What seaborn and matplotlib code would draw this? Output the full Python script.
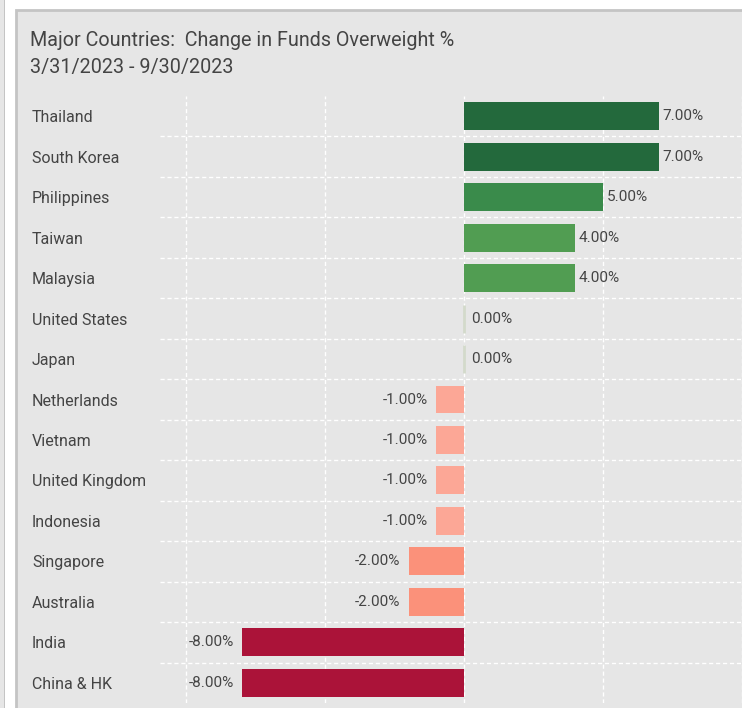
import matplotlib
matplotlib.use("Agg")
import matplotlib.pyplot as plt
import seaborn as sns
import pandas as pd
from matplotlib.patches import Rectangle

# data
countries = ["Thailand", "South Korea", "Philippines", "Taiwan", "Malaysia",
             "United States", "Japan", "Netherlands", "Vietnam", "United Kingdom",
             "Indonesia", "Singapore", "Australia", "India", "China & HK"]
change_pct = [7, 7, 5, 4, 4, 0, 0, -1, -1, -1, -1, -2, -2, -8, -8]
bar_colors = ["#23693c", "#23693c", "#3a8b4b", "#519d52", "#519d52",
              "#d3dacb", "#d3dacb", "#fca796", "#fca796", "#fca796",
              "#fca796", "#fb917a", "#fb917a", "#ab1339", "#ab1339"]

df = pd.DataFrame({"country": countries, "change": change_pct})

sns.set_theme(style="white")
plt.rcParams["font.family"] = ["Roboto", "DejaVu Sans"]
txt = "#444444"
W, H = 742, 708

fig = plt.figure(figsize=(W / 100, H / 100), dpi=100)
fig.patch.set_facecolor("white")

# outer panel pieces (kept behind the axes)
fig.patches.append(Rectangle((0, 0), 4 / W, 1, transform=fig.transFigure,
                             facecolor="#e6e6e6", edgecolor="none", zorder=-5))
fig.patches.append(Rectangle((3.5 / W, -0.01), 1.5 / W, 1.02, transform=fig.transFigure,
                             facecolor="#c4c4c4", edgecolor="none", zorder=-5))
fig.patches.append(Rectangle((16 / W, -0.01), 1.0, (H - 10) / H + 0.01,
                             transform=fig.transFigure, facecolor="#e6e6e6",
                             edgecolor="#c4c4c4", linewidth=2, zorder=-5))

fig.text(30 / W, 1 - 41 / H, "Major Countries:  Change in Funds Overweight %",
         fontsize=14.2, color=txt, va="center", ha="left")
fig.text(30 / W, 1 - 68 / H, "3/31/2023 - 9/30/2023",
         fontsize=14.2, color=txt, va="center", ha="left")

ax_l, ax_r, ax_t, ax_b = 160, 742, 96, 703
ax = fig.add_axes([ax_l / W, 1 - ax_b / H, (ax_r - ax_l) / W, (ax_b - ax_t) / H])
ax.set_facecolor("none")

sns.barplot(data=df, x="change", y="country", hue="country", palette=bar_colors,
            legend=False, width=0.69, orient="h", ax=ax, saturation=1, zorder=3)

# zero bars show as a thin line
for p, v, c in zip(ax.patches, change_pct, bar_colors):
    p.set_edgecolor(c if v == 0 else "none")
    p.set_linewidth(2 if v == 0 else 0)

zero_px = 466.5
px_per = 28
x_min = (ax_l - zero_px) / px_per
x_max = (ax_r - zero_px) / px_per
ax.set_xlim(x_min, x_max)
ax.set_ylim(len(countries) - 0.5, -0.5)

ax.set_xticks([-10, -5, 0, 5, 10])
ax.set_yticks([i + 0.5 for i in range(len(countries) - 1)], minor=True)
ax.grid(axis="x", which="major", color="white", linestyle=(0, (3, 2)), linewidth=1, zorder=1)
ax.grid(axis="y", which="minor", color="white", linestyle=(0, (3, 2)), linewidth=1, zorder=1)
ax.set_axisbelow(True)
ax.tick_params(axis="x", which="both", length=0, labelbottom=False)
ax.tick_params(axis="y", which="both", length=0)
ax.set_xlabel("")
ax.set_ylabel("")
for s in ax.spines.values():
    s.set_visible(False)

ax.set_yticks(range(len(countries)))
ax.set_yticklabels(countries, ha="left", fontsize=11.5, color=txt)
ax.tick_params(axis="y", pad=(ax_l - 32) * 0.72)

for i, v in enumerate(change_pct):
    label = f"{v:.2f}%"
    if v > 0:
        ax.annotate(label, (v, i), xytext=(2.5, 0), textcoords="offset points",
                    ha="left", va="center", fontsize=11, color=txt)
    elif v < 0:
        ax.annotate(label, (v, i), xytext=(-6, 0), textcoords="offset points",
                    ha="right", va="center", fontsize=11, color=txt)
    else:
        ax.annotate(label, (v, i), xytext=(5, 0), textcoords="offset points",
                    ha="left", va="center", fontsize=11, color=txt)

fig.savefig("out.png", dpi=100, facecolor=fig.get_facecolor())
